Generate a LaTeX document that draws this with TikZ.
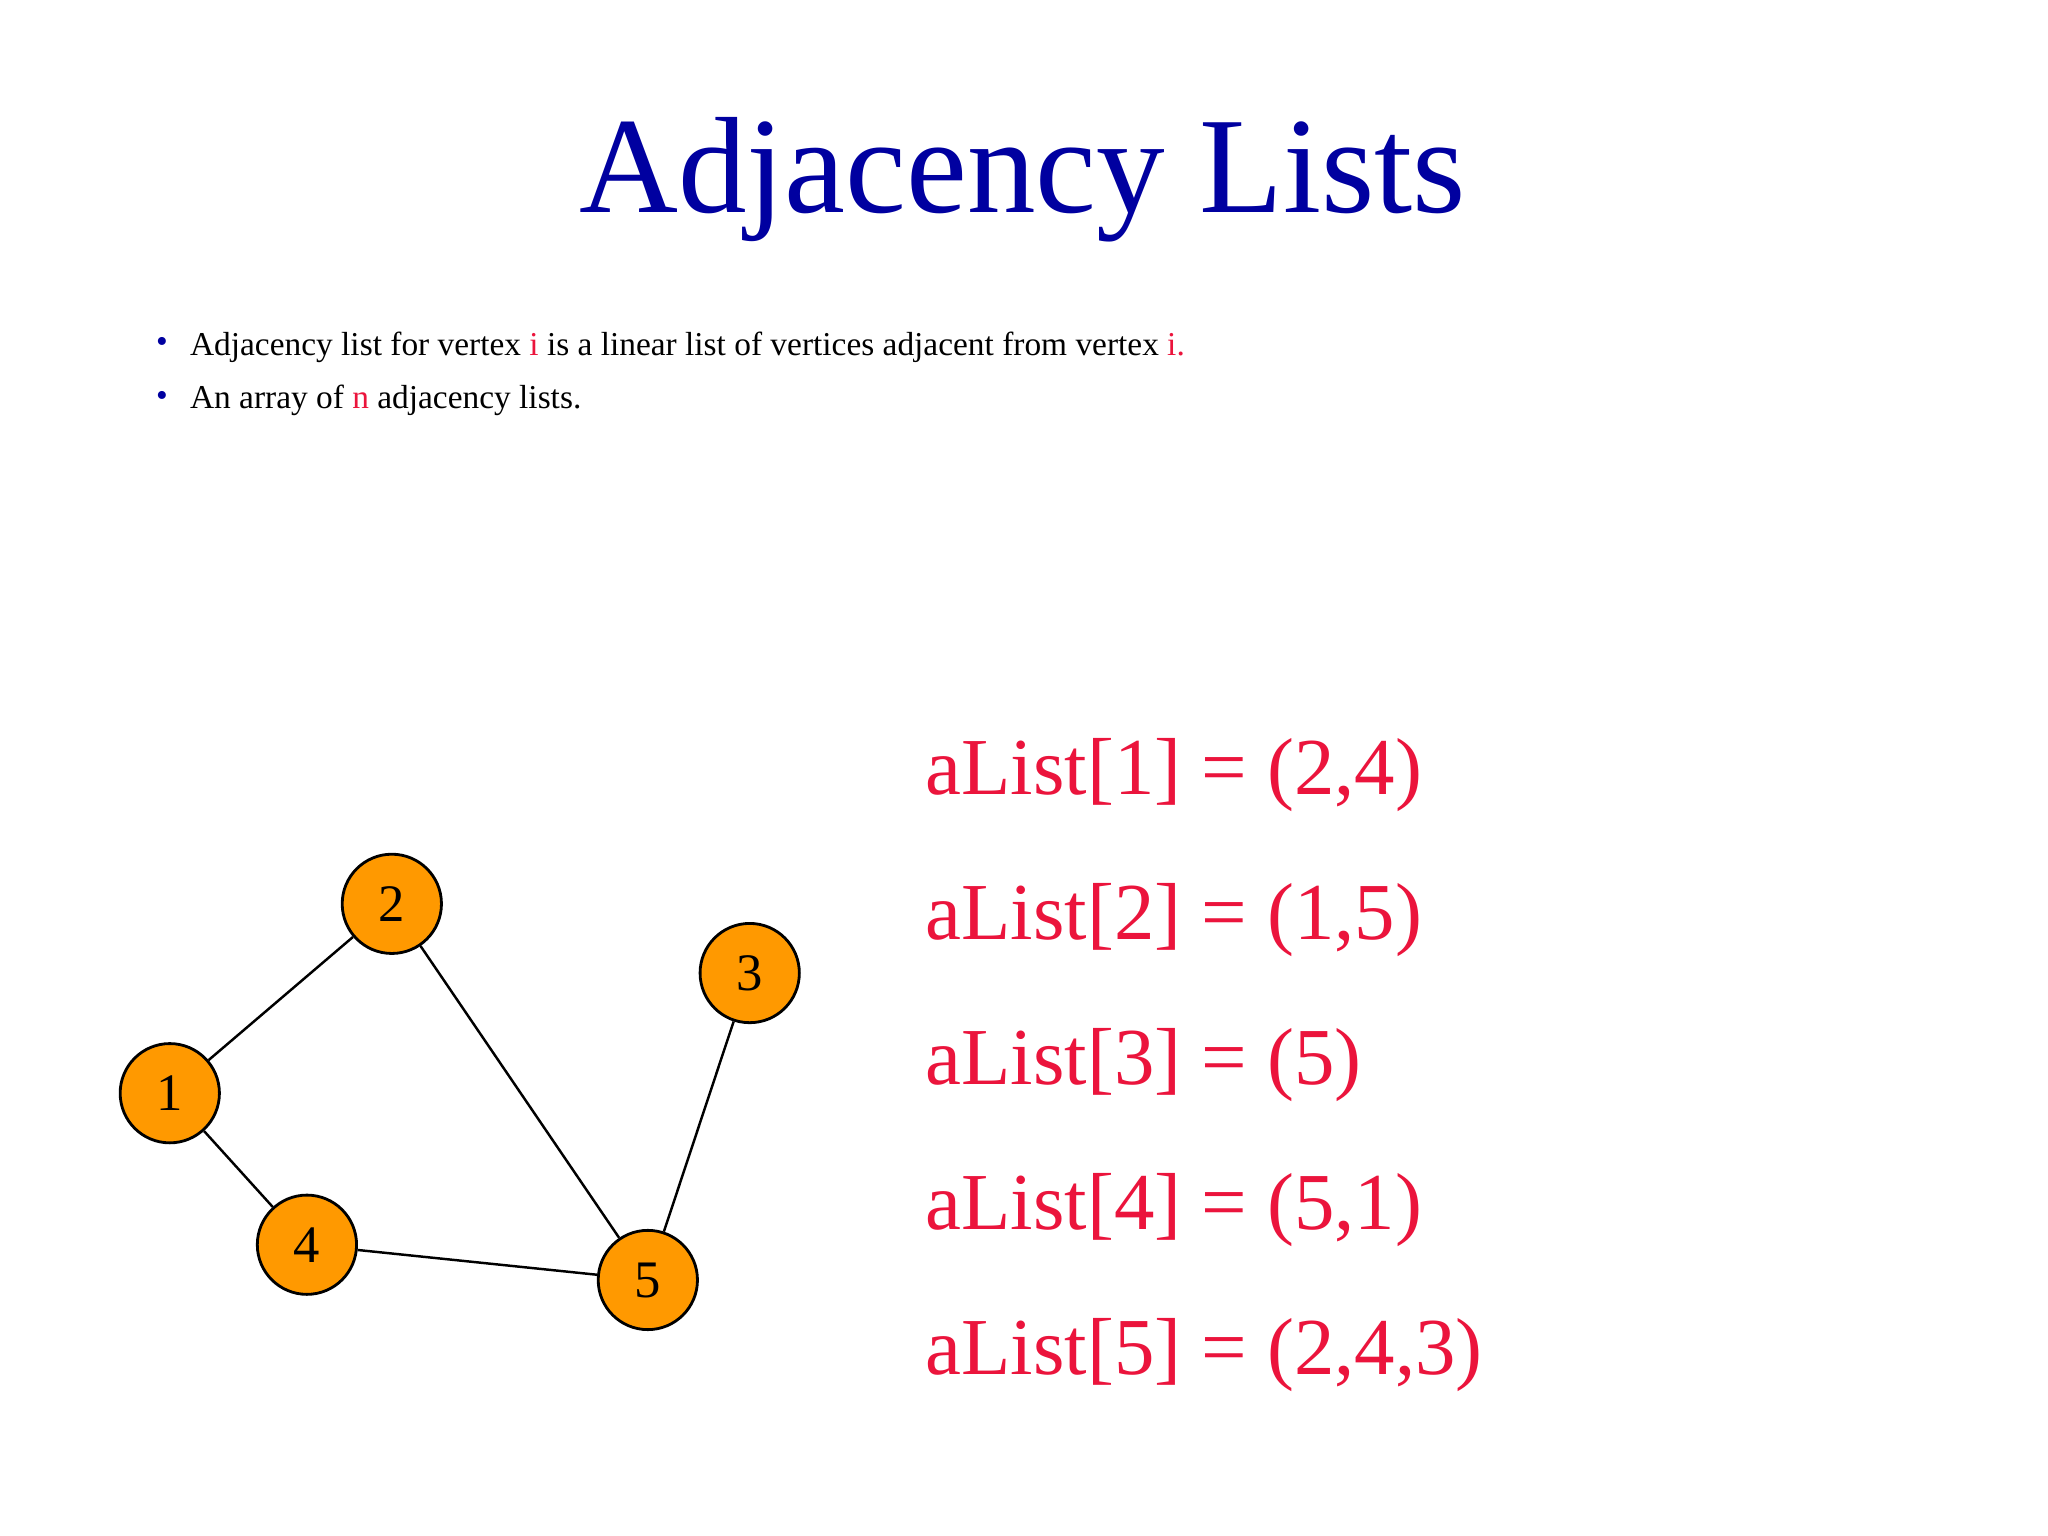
\documentclass[tikz,border=0pt]{standalone}
\usepackage{fontspec}
\setmainfont{Liberation Serif}
\definecolor{tblue}{RGB}{0,0,160}
\definecolor{tred}{RGB}{235,20,60}
\definecolor{vor}{RGB}{255,153,0}
\begin{document}
\begin{tikzpicture}[x=0.01306cm,y=-0.01306cm,
  vert/.style={circle,draw=black,fill=vor,line width=0.8pt,minimum size=76*0.01306cm,inner sep=0pt,font=\fontsize{15}{15}\selectfont},
  edge/.style={line width=0.7pt},
  alist/.style={anchor=base west,text=tred,font=\fontsize{23}{23}\selectfont,inner sep=0pt},
  bul/.style={anchor=base west,font=\fontsize{9.5}{10}\selectfont,inner sep=0pt}]
\useasboundingbox[fill=white] (0,0) rectangle (1568,1176);
\node[anchor=base,text=tblue,font=\fontsize{39}{40}\selectfont,inner sep=0pt] (title) at (783,163) {Adjacency Lists};
\node[bul,text=tblue] (b1d) at (119,270) {\textbullet};
\node[bul] (b1) at (145,272) {Adjacency list for vertex \textcolor{tred}{i} is a linear list of vertices adjacent from vertex \textcolor{tred}{i.}};
\node[bul,text=tblue] (b2d) at (119,311) {\textbullet};
\node[bul] (b2) at (145,313) {An array of \textcolor{tred}{n} adjacency lists.};
\node[vert] (v1) at (130,837) {1};
\node[vert] (v2) at (300,692) {2};
\node[vert] (v3) at (574,745) {3};
\node[vert] (v4) at (235,953) {4};
\node[vert] (v5) at (496,980) {5};
\draw[edge] (v1) -- (v2);
\draw[edge] (v1) -- (v4);
\draw[edge] (v2) -- (v5);
\draw[edge] (v3) -- (v5);
\draw[edge] (v4) -- (v5);
\node[alist] (l1) at (708,608) {aList[1] = (2,4)};
\node[alist] (l2) at (708,719) {aList[2] = (1,5)};
\node[alist] (l3) at (708,830) {aList[3] = (5)};
\node[alist] (l4) at (708,941) {aList[4] = (5,1)};
\node[alist] (l5) at (708,1052) {aList[5] = (2,4,3)};
\end{tikzpicture}
\end{document}
